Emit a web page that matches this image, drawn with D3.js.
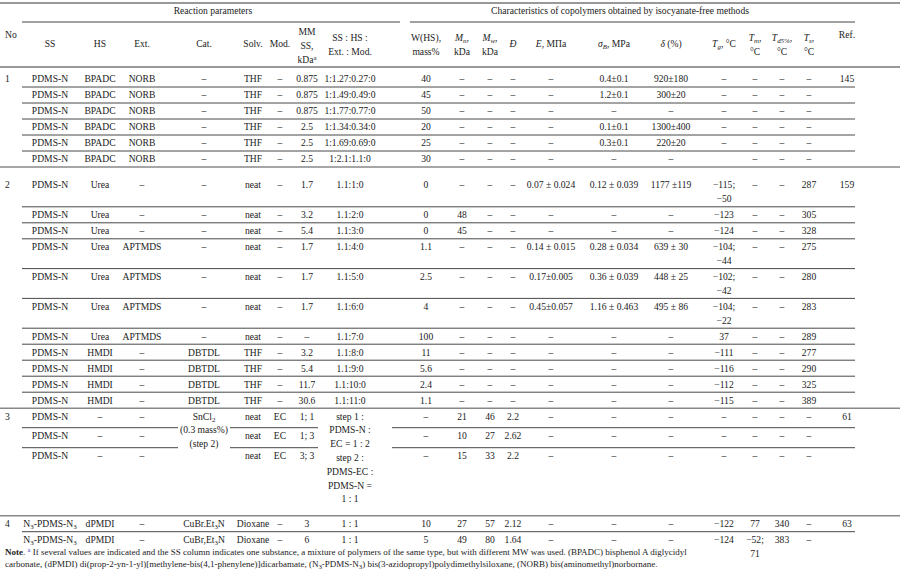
<!DOCTYPE html>
<html><head><meta charset="utf-8">
<script src="https://cdn.jsdelivr.net/npm/d3@7"></script>
<style>body{margin:0;background:#fff}svg text{font-family:"Liberation Serif","Times New Roman","DejaVu Serif",serif}</style>
</head><body><div id="viz"></div>
<script>
// column keys and header labels
const columns = ["No","SS","HS","Ext.","Cat.","Solv.","Mod.","MM","ratio","W","Mn","Mw","D","E","sigma","delta","Tg","Tm","Td","Ts","Ref"];
const headerLabels = ["No","SS","HS","Ext.","Cat.","Solv.","Mod.","MM\nSS,\nkDa^a","SS : HS :\nExt. : Mod.","W(HS),\nmass%","*M_n,\nkDa","*M_w,\nkDa","*Đ","*E, МПа","*σ_B, MPa","*δ (%)","*T_g, °C","*T_m,\n°C","*T_d5%,\n°C","*T_s,\n°C","Ref."];
const groupTitles = ["Reaction parameters","Characteristics of copolymers obtained by isocyanate-free methods"];

const group1 = [
  ["1","PDMS-N","BPADC","NORB","–","THF","–","0.875","1:1.27:0.27:0","40","–","–","–","–","0.4±0.1","920±180","–","–","–","–","145"],
  ["","PDMS-N","BPADC","NORB","–","THF","–","0.875","1:1.49:0.49:0","45","–","–","–","–","1.2±0.1","300±20","–","–","–","–",""],
  ["","PDMS-N","BPADC","NORB","–","THF","–","0.875","1:1.77:0.77:0","50","–","–","–","–","–","–","–","–","–","–",""],
  ["","PDMS-N","BPADC","NORB","–","THF","–","2.5","1:1.34:0.34:0","20","–","–","–","–","0.1±0.1","1300±400","–","–","–","–",""],
  ["","PDMS-N","BPADC","NORB","–","THF","–","2.5","1:1.69:0.69:0","25","–","–","–","–","0.3±0.1","220±20","–","–","–","–",""],
  ["","PDMS-N","BPADC","NORB","–","THF","–","2.5","1:2.1:1.1:0","30","–","–","–","–","–","–","","–","–","–",""]
];
const group2 = [
  ["2","PDMS-N","Urea","–","–","neat","–","1.7","1.1:1:0","0","–","–","–","0.07 ± 0.024","0.12 ± 0.039","1177 ±119","−115;\n−50","–","–","287","159"],
  ["","PDMS-N","Urea","–","–","neat","–","3.2","1.1:2:0","0","48","–","–","–","–","–","−123","–","–","305",""],
  ["","PDMS-N","Urea","–","–","neat","–","5.4","1.1:3:0","0","45","–","–","–","–","–","−124","–","–","328",""],
  ["","PDMS-N","Urea","APTMDS","–","neat","–","1.7","1.1:4:0","1.1","–","–","–","0.14 ± 0.015","0.28 ± 0.034","639 ± 30","−104;\n−44","–","–","275",""],
  ["","PDMS-N","Urea","APTMDS","–","neat","–","1.7","1.1:5:0","2.5","–","–","–","0.17±0.005","0.36 ± 0.039","448 ± 25","−102;\n−42","–","–","280",""],
  ["","PDMS-N","Urea","APTMDS","–","neat","–","1.7","1.1:6:0","4","–","–","–","0.45±0.057","1.16 ± 0.463","495 ± 86","−104;\n−22","–","–","283",""],
  ["","PDMS-N","Urea","APTMDS","–","neat","–","–","1.1:7:0","100","–","–","–","–","–","–","37","–","–","289",""],
  ["","PDMS-N","HMDI","–","DBTDL","THF","–","3.2","1.1:8:0","11","–","–","–","–","–","–","−111","–","–","277",""],
  ["","PDMS-N","HMDI","–","DBTDL","THF","–","5.4","1.1:9:0","5.6","–","–","–","–","–","–","−116","–","–","290",""],
  ["","PDMS-N","HMDI","–","DBTDL","THF","–","11.7","1.1:10:0","2.4","–","–","–","–","–","–","−112","–","–","325",""],
  ["","PDMS-N","HMDI","–","DBTDL","THF","–","30.6","1.1:11:0","1.1","–","–","–","–","–","–","−115","–","–","389",""]
];
const group3 = [
  ["3","PDMS-N","–","–","SnCl_2\n(0.3 mass%)\n(step 2)","neat","EC","1; 1","step 1 :\nPDMS-N :\nEC = 1 : 2\nstep 2 :\nPDMS-EC :\nPDMS-N =\n1 : 1","–","21","46","2.2","–","–","–","–","–","–","–","61"],
  ["","PDMS-N","–","–","","neat","EC","1; 3","","–","10","27","2.62","–","–","–","–","–","–","–",""],
  ["","PDMS-N","–","–","","neat","EC","3; 3","","–","15","33","2.2","–","–","–","–","–","–","–",""]
];
const group4 = [
  ["4","N_3-PDMS-N_3","dPMDI","–","CuBr.Et_3N","Dioxane","–","3","1 : 1","10","27","57","2.12","–","–","–","−122","77","340","–","63"],
  ["","N_3-PDMS-N_3","dPMDI","–","CuBr,Et_3N","Dioxane","–","6","1 : 1","5","49","80","1.64","–","–","–","−124","−52;\n71","383","–",""]
];
const groups = [group1, group2, group3, group4];
const spanCols = ["Cat.","ratio"]; // cells spanning rows in group 3
const noteLines = [
  "If several values are indicated and the SS column indicates one substance, a mixture of polymers of the same type, but with different MW was used. (BPADC) bisphenol A diglycidyl",
  "carbonate, (dPMDI) di(prop-2-yn-1-yl)[methylene-bis(4,1-phenylene)]dicarbamate, (N_3-PDMS-N_3) bis(3-azidopropyl)polydimethylsiloxane, (NORB) bis(aminomethyl)norbornane."
];

const colX = {"No":5,"SS":50,"HS":100,"Ext.":142,"Cat.":204,"Solv.":253,"Mod.":280,"MM":307,"ratio":350,"W":426,
  "Mn":462,"Mw":490,"D":513,"E":551,"sigma":614,"delta":671,"Tg":724,"Tm":755,"Td":782,"Ts":809,"Ref":847};
const x = d3.scaleOrdinal().domain(columns).range(columns.map(c => colX[c]));
const spanRange = {"Cat.":[178,230],"ratio":[318,392]};

const svg = d3.select("#viz").append("svg").attr("width",900).attr("height",570);
const fs = 9.6, lineH = 13.8, rowH = 16;

// writes text with _digit subscripts and ^x superscripts
function rich(sel, str) {
  const parts = str.split(/(_\d+|\^\S)/);
  parts.forEach(p => {
    if (!p) return;
    if (p[0] === "_" || p[0] === "^") {
      sel.append("tspan").attr("baseline-shift", p[0] === "_" ? "-25%" : "40%")
        .attr("font-size", fs * 0.72).text(p.slice(1));
    } else sel.append("tspan").text(p);
  });
}
function cell(txt, cx, cy, anchor, italic) {
  const lines = txt.split("\n");
  lines.forEach((ln, i) => {
    const t = svg.append("text").attr("x", cx).attr("y", cy + i * lineH + 3.4)
      .attr("text-anchor", anchor).attr("font-size", fs).attr("fill", "#222");
    if (italic && i === 0) {
      const m = ln.match(/^([A-Za-zσδĐ])(_[^,\s]+)?(.*)$/);
      if (m) {
        t.append("tspan").attr("font-style", "italic").text(m[1]);
        if (m[2]) t.append("tspan").attr("font-style","italic").attr("baseline-shift","-25%").attr("font-size",fs*0.72).text(m[2].slice(1));
        if (m[3]) t.append("tspan").text(m[3]);
        return;
      }
    }
    rich(t, ln);
  });
}
function hline(x1, x2, y, w, c) {
  svg.append("line").attr("x1", x1).attr("x2", x2).attr("y1", y).attr("y2", y)
    .attr("stroke", c).attr("stroke-width", w);
}

// header
hline(0, 900, 3, 1.6, "#777");
cell(groupTitles[0], 213, 11, "middle");
cell(groupTitles[1], 620, 11, "middle");
hline(22, 400, 22, 1, "#444");
hline(410, 855, 22, 1, "#444");
columns.forEach((c, i) => {
  let lab = headerLabels[i], it = lab[0] === "*";
  if (it) lab = lab.slice(1);
  const n = lab.split("\n").length;
  const cy = (c === "No" || c === "Ref") ? 35 : 44 - (n - 1) * 6.2;
  cell(lab, x(c), cy, c === "No" ? "start" : "middle", it);
});
hline(0, 900, 67, 1.6, "#777");

// body
const extraH = [[], [], [19.5, 20, 68], []];
let y = 71, lastTop = y;
groups.forEach((rows, gi) => {
  rows.forEach((r, ri) => {
    const n = d3.max(r.filter((v, k) => !(gi === 2 && spanCols.includes(columns[k]))), v => v.split("\n").length);
    const h = extraH[gi][ri] || rowH + (n - 1) * lineH;
    const cy = y + 8;
    lastTop = y;
    r.forEach((v, k) => {
      if (v === "") return;
      const c = columns[k];
      cell(v, x(c), cy, c === "No" ? "start" : "middle");
    });
    y += h;
    const last = ri === rows.length - 1;
    if (last) {
      if (gi < groups.length - 1) hline(0, 900, y, 1.6, "#888");
    } else if (gi === 2) {
      let x0 = 22;
      spanCols.forEach(s => { hline(x0, spanRange[s][0], y, 0.9, "#333"); x0 = spanRange[s][1]; });
      hline(x0, 855, y, 0.9, "#333");
    } else hline(22, 855, y, 0.9, "#333");
  });
  if (gi === 0) y += 10;
});

// note
const ny = lastTop + 8 + 15;
const nt = svg.append("text").attr("x", 5).attr("y", ny).attr("font-size", 9).attr("fill", "#222");
nt.append("tspan").attr("font-weight", "bold").text("Note");
nt.append("tspan").text(". ");
nt.append("tspan").attr("baseline-shift", "40%").attr("font-size", 6.5).attr("fill", "#33a").text("a");
rich(nt, " " + noteLines[0]);
const nt2 = svg.append("text").attr("x", 5).attr("y", ny + 12.5).attr("font-size", 9).attr("fill", "#222");
rich(nt2, noteLines[1]);
</script></body></html>
